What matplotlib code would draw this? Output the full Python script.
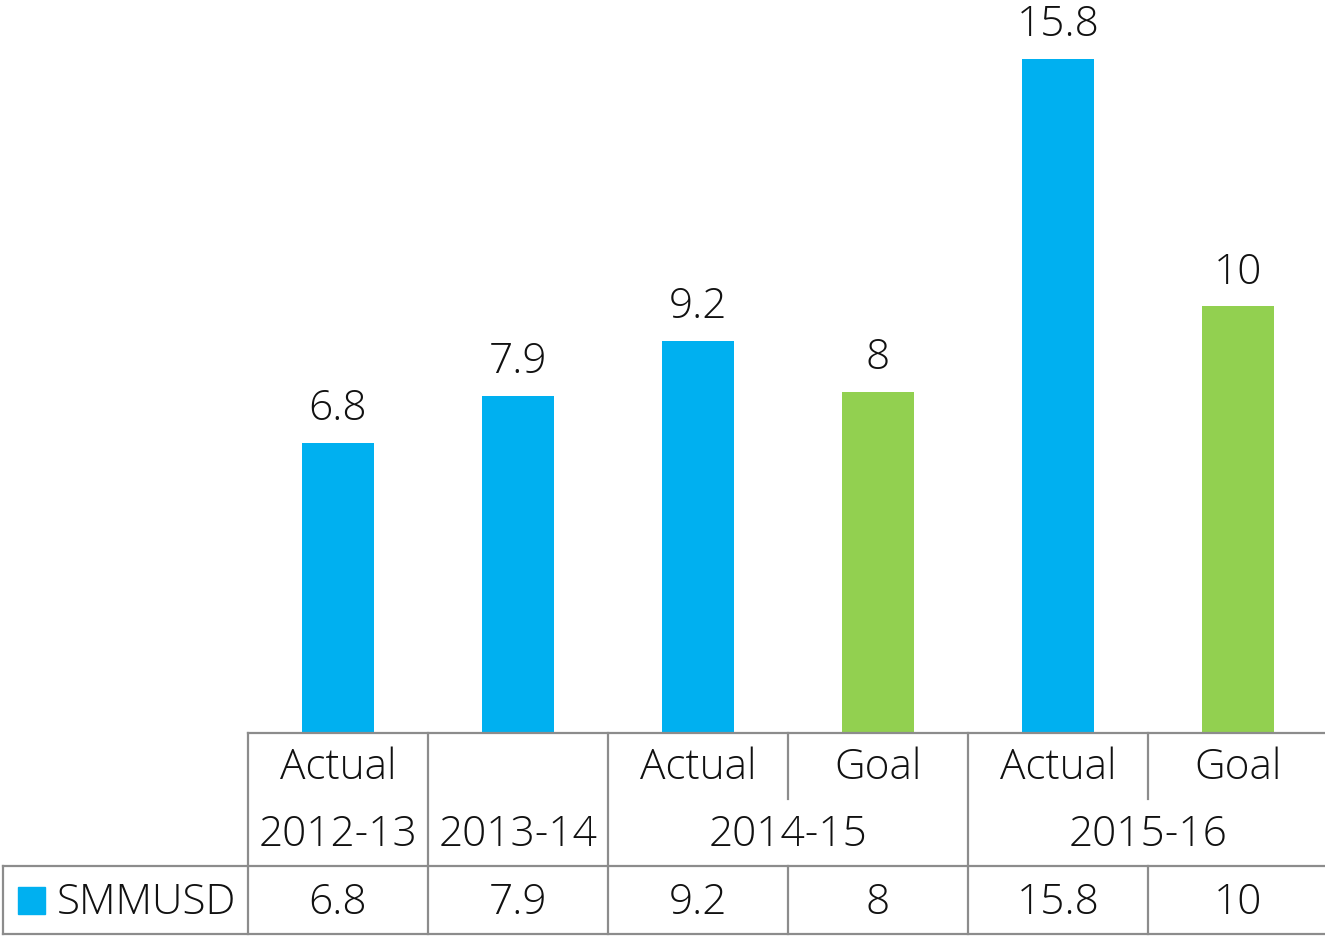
import matplotlib
matplotlib.use("Agg")
import matplotlib.pyplot as plt

# data
sub_labels = ["Actual", "", "Actual", "Goal", "Actual", "Goal"]
years = ["2012-13", "2013-14", "2014-15", "2015-16"]
year_spans = [(0, 0), (1, 1), (2, 3), (4, 5)]
values = [6.8, 7.9, 9.2, 8, 15.8, 10]
series_name = "SMMUSD"

blue = "#00B0F0"
green = "#92D050"
grid_col = "#8c8c8c"
txt_col = "#111111"
fs = 30.5

plt.rcParams["font.family"] = ["Open Sans", "DejaVu Sans"]
plt.rcParams["font.weight"] = "light"
W, H = 1325, 937
fig = plt.figure(figsize=(W / 100, H / 100), dpi=100)
ax = fig.add_axes([248 / W, (H - 734) / H, 1080 / W, 734 / H])

colors = [green if s == "Goal" else blue for s in sub_labels]
x = list(range(len(values)))
ax.bar(x, values, width=0.4, color=colors)
for xi, v in zip(x, values):
    ax.annotate(f"{v:g}", (xi, v), xytext=(0, 17), textcoords="offset points",
                ha="center", va="baseline", fontsize=fs, color=txt_col)

ax.set_xlim(-0.5, 5.5)
ax.set_ylim(0, 734 / 42.66)
ax.axis("off")

# table below the plot (axes y coords)
def fy(py):
    return (734 - py) / 734

r1, r2, r3 = fy(800), fy(867), fy(935)
tr = ax.get_xaxis_transform()
lkw = dict(color=grid_col, lw=1.6, transform=tr, clip_on=False, solid_capstyle="projecting")

ax.plot([-0.5, 5.6], [0, 0], **lkw)
left_x = -0.5 - 245 / 180
ax.plot([left_x, 5.6], [r2, r2], **lkw)
ax.plot([left_x, 5.6], [r3, r3], **lkw)
ax.plot([left_x, left_x], [r2, r3], **lkw)
for b in [-0.5, 0.5, 1.5, 3.5]:
    ax.plot([b, b], [0, r3], **lkw)
for b in [2.5, 4.5]:
    ax.plot([b, b], [0, r1], **lkw)
    ax.plot([b, b], [r2, r3], **lkw)

tkw = dict(transform=tr, ha="center", va="center", fontsize=fs, color=txt_col, clip_on=False)
for xi, s in zip(x, sub_labels):
    ax.text(xi, fy(768), s, **tkw)
for (a, b), yl in zip(year_spans, years):
    ax.text((a + b) / 2, fy(835), yl, **tkw)
for xi, v in zip(x, values):
    ax.text(xi, fy(903), f"{v:g}", **tkw)

# legend key in the left cell
fig.patches.append(plt.Rectangle((18 / W, (H - 915) / H), 27 / W, 27 / H,
                                 transform=fig.transFigure, color=blue))
fig.text(57 / W, (H - 903) / H, series_name, ha="left", va="center",
         fontsize=fs, color=txt_col)

fig.savefig("out.png", dpi=100)
